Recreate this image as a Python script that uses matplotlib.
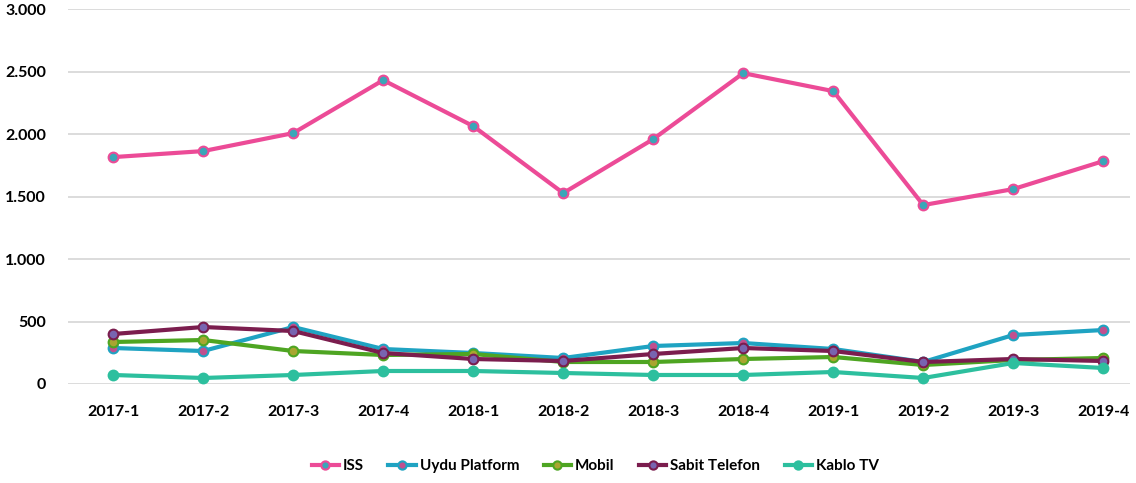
import matplotlib.pyplot as plt
from matplotlib.ticker import FuncFormatter

# Data
quarters = ['2017-1', '2017-2', '2017-3', '2017-4', '2018-1', '2018-2',
            '2018-3', '2018-4', '2019-1', '2019-2', '2019-3', '2019-4']
iss = [1816, 1864, 2008, 2432, 2064, 1528, 1960, 2488, 2344, 1432, 1560, 1784]
uydu = [288, 264, 456, 280, 248, 208, 304, 328, 280, 176, 392, 432]
mobil = [336, 352, 264, 232, 240, 176, 176, 200, 216, 152, 192, 208]
sabit = [400, 456, 424, 248, 200, 184, 240, 288, 264, 176, 200, 184]
kablo = [72, 48, 72, 104, 104, 88, 72, 72, 96, 48, 168, 128]

series = [
    ('ISS', iss, '#ec4b97', '#3aa6b8'),
    ('Uydu Platform', uydu, '#1fa3c2', '#c0508f'),
    ('Mobil', mobil, '#4ea522', '#a9a530'),
    ('Sabit Telefon', sabit, '#7b1d4e', '#7864b0'),
    ('Kablo TV', kablo, '#2dbf9e', '#2dbf9e'),
]

plt.rcParams['font.family'] = ['Lato', 'DejaVu Sans']

fig = plt.figure(figsize=(11.36, 4.83), dpi=100)
ax = fig.add_axes([0.06, 0.205, 0.935, 0.776])

x = list(range(len(quarters)))
for name, vals, col, face in series:
    ax.plot(x, vals, color=col, lw=3, marker='o', ms=7, 
            markerfacecolor=face, markeredgecolor=col, markeredgewidth=1.5,
            label=name, zorder=3)

ax.set_ylim(0, 3000)
ax.set_yticks(range(0, 3001, 500))
ax.yaxis.set_major_formatter(FuncFormatter(lambda v, p: f'{int(v):,}'.replace(',', '.')))
ax.set_xlim(-0.5, 11.3)
ax.set_xticks(x)
ax.set_xticklabels(quarters)

ax.grid(axis='y', color='#d9d9d9', lw=1.3)
ax.set_axisbelow(True)
for s in ax.spines.values():
    s.set_visible(False)
ax.tick_params(length=0, labelsize=11.5)
ax.tick_params(axis='x', pad=15)
ax.tick_params(axis='y', pad=16)
for lbl in ax.get_xticklabels() + ax.get_yticklabels():
    lbl.set_fontweight('bold')

fig.legend(loc='center', bbox_to_anchor=(0.524, 0.035), ncol=5, frameon=False,
           prop={'weight': 'bold', 'size': 11}, handlelength=1.8,
           handletextpad=0.25, columnspacing=1.6, markerscale=0.85)

fig.savefig('out.png', dpi=100)
